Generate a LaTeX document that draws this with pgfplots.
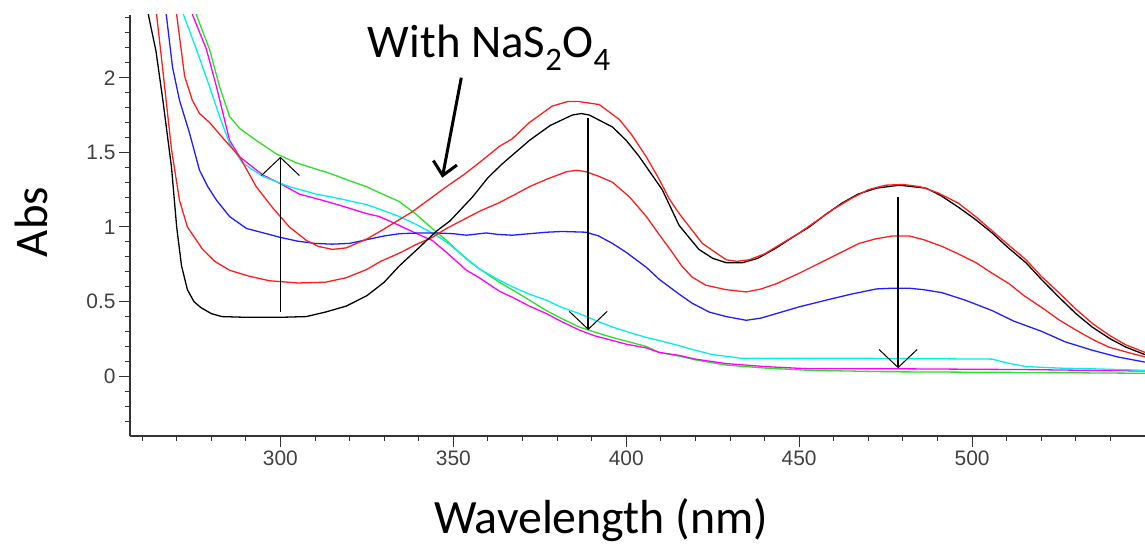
\documentclass[border=0pt]{standalone}
\usepackage{fontspec}
\setmainfont{Carlito}
\newfontfamily\tickfont{Liberation Sans}
\usepackage{pgfplots}
\pgfplotsset{compat=1.18}
\usetikzlibrary{arrows.meta}
\definecolor{cgreen}{RGB}{40,225,40}
\definecolor{cred}{RGB}{255,30,30}
\definecolor{cblue}{RGB}{30,30,255}
\definecolor{ccyan}{RGB}{0,240,240}
\definecolor{cmag}{RGB}{255,0,255}
\begin{document}
\begin{tikzpicture}
\begin{axis}[name=ax, scale only axis, width=1015bp, height=421bp,
  xmin=256.5, xmax=550, ymin=-0.4, ymax=2.42,
  axis lines*=left, axis line style={line width=1.2bp, black!80},
  tick align=outside, major tick length=11bp, minor tick length=5bp,
  xtick={300,350,...,500}, minor xtick={260,270,...,550},
  ytick={0,0.5,1,1.5,2}, minor ytick={-0.3,-0.2,-0.1,0.1,0.2,0.3,0.4,0.6,0.7,0.8,0.9,1.1,1.2,1.3,1.4,1.6,1.7,1.8,1.9,2.1,2.2,2.3,2.4},
  every tick/.style={black!80, line width=1bp},
  /pgf/number format/assume math mode=true,
  ticklabel style={font=\tickfont\fontsize{21}{24}\selectfont, text=black!75},
  xlabel={Wavelength (nm)}, ylabel={Abs},
  every axis x label/.style={at={(axis description cs:0.464,0)}, anchor=center, yshift=-84bp, font=\fontsize{48}{50}\selectfont},
  every axis y label/.style={at={(axis description cs:-0.0975,0.508)}, rotate=90, anchor=center, font=\fontsize{47}{50}\selectfont},
  every axis plot/.append style={line width=1.3bp},
]
% green
\addplot[cgreen] coordinates {(275,2.55)(275.7,2.42)(279.5,2.19)(282.4,1.94)(285.3,1.74)(288.2,1.66)(293,1.58)(298.8,1.49)(304.6,1.43)(310,1.39)(314.2,1.36)(320,1.31)(324.9,1.27)(328.6,1.23)(334.4,1.17)(339,1.09)(343.9,0.99)(348,0.91)(353.8,0.785)(357.5,0.72)(363.3,0.63)(367,0.58)(372,0.51)(376.9,0.44)(381,0.39)(386.4,0.33)(391,0.295)(396,0.26)(400,0.235)(405.8,0.20)(409.5,0.16)(415.3,0.135)(420,0.11)(428.9,0.075)(440,0.055)(452.9,0.04)(476.9,0.03)(520,0.025)(550,0.02)};
% magenta
\addplot[cmag] coordinates {(273.9,2.55)(274.6,2.42)(278.6,2.19)(281.5,1.94)(285.3,1.58)(288.2,1.47)(294.8,1.35)(300,1.29)(305.5,1.22)(310.4,1.19)(315,1.16)(320,1.125)(324.9,1.09)(328.6,1.07)(334.4,1.01)(339,0.96)(343.9,0.91)(348,0.83)(353.8,0.71)(357.5,0.66)(363.3,0.57)(367,0.53)(372,0.47)(376.9,0.42)(381,0.37)(386.4,0.31)(391,0.27)(396,0.24)(400,0.215)(405.8,0.19)(409.5,0.16)(415.3,0.14)(420,0.115)(428.9,0.085)(440,0.065)(452.9,0.05)(480,0.05)(515.6,0.045)(550,0.035)};
% cyan
\addplot[ccyan] coordinates {(271.3,2.55)(272,2.42)(275.7,2.19)(279.5,1.94)(282.4,1.74)(285.3,1.56)(289,1.43)(294.8,1.34)(302.6,1.27)(310.4,1.22)(315,1.20)(320,1.175)(324.9,1.15)(328.6,1.12)(334.4,1.07)(339,1.02)(343.9,0.96)(348,0.90)(353.8,0.79)(357.5,0.72)(362,0.66)(367,0.60)(372,0.55)(376.9,0.51)(381,0.465)(386.4,0.42)(391,0.375)(396,0.33)(400,0.30)(405.8,0.26)(409.5,0.24)(415.3,0.205)(419,0.18)(425,0.145)(433.5,0.12)(440,0.12)(470,0.12)(505.8,0.115)(510,0.09)(515.6,0.065)(525,0.055)(535,0.05)(550,0.04)};
% blue
\addplot[cblue] coordinates {(266.4,2.55)(267,2.42)(268.8,2.07)(270.8,1.85)(273.7,1.63)(276.6,1.38)(279,1.27)(281.5,1.18)(285.3,1.07)(290.2,0.99)(296.8,0.95)(300,0.93)(305,0.905)(310,0.89)(315,0.885)(320,0.89)(324.9,0.915)(330,0.94)(334.4,0.955)(340,0.96)(345,0.96)(350,0.955)(353.8,0.945)(359.5,0.96)(363,0.95)(367,0.945)(372,0.955)(377,0.965)(381.5,0.97)(388.4,0.965)(392,0.94)(396,0.89)(400,0.83)(405.8,0.73)(409.5,0.65)(415.3,0.55)(419,0.49)(424,0.43)(428.9,0.40)(434.7,0.375)(439,0.39)(443.4,0.42)(450,0.465)(457.8,0.51)(465,0.55)(472.3,0.585)(477,0.59)(481.8,0.59)(486,0.58)(491.3,0.56)(498,0.51)(505.8,0.44)(512,0.37)(520.2,0.30)(527,0.23)(534.7,0.175)(542,0.13)(550,0.095)};
% red 2
\addplot[cred] coordinates {(263.5,2.58)(264.2,2.42)(265.9,2.07)(268.5,1.52)(270.8,1.18)(273.1,1.00)(277.5,0.85)(281,0.77)(285.3,0.71)(291,0.67)(296.8,0.64)(305,0.625)(313,0.63)(319,0.66)(324.9,0.715)(329,0.77)(334.4,0.825)(339,0.88)(343.9,0.93)(348,0.99)(353.8,1.06)(358,1.11)(363,1.16)(368,1.22)(372,1.27)(377,1.32)(382.7,1.37)(385.5,1.38)(388.4,1.37)(392,1.34)(396,1.30)(401,1.20)(405.8,1.07)(409.5,0.95)(413,0.84)(416,0.74)(419,0.665)(423,0.61)(428.9,0.58)(434.7,0.565)(439,0.585)(443.4,0.62)(450,0.69)(457.8,0.78)(463,0.84)(467.3,0.89)(472,0.92)(476.9,0.94)(481.8,0.94)(486,0.915)(491.3,0.87)(496,0.82)(501.2,0.76)(505.8,0.69)(510.7,0.62)(515,0.54)(520.2,0.46)(525,0.38)(530,0.31)(535,0.245)(539.6,0.195)(545,0.16)(550,0.13)};
% black
\addplot[black] coordinates {(260.5,2.60)(262,2.40)(264,2.18)(266,1.85)(268.5,1.40)(270,1.00)(271.4,0.74)(273.1,0.58)(275,0.50)(277,0.46)(280,0.42)(283,0.40)(290,0.395)(300,0.395)(307.5,0.40)(313,0.43)(319,0.47)(325,0.54)(330,0.63)(334.4,0.74)(340,0.86)(345,0.97)(349,1.04)(355.5,1.20)(360,1.33)(364,1.42)(372,1.58)(378,1.68)(384.4,1.75)(387,1.76)(389.3,1.75)(396,1.67)(400,1.58)(403.8,1.47)(410.4,1.25)(415.3,1.01)(421,0.85)(425,0.79)(429,0.76)(433.5,0.76)(438,0.79)(443.4,0.86)(448,0.93)(452.9,1.00)(458,1.09)(462.4,1.16)(467,1.22)(472.3,1.26)(478.9,1.28)(486.7,1.26)(491,1.21)(496.2,1.13)(501,1.05)(505.8,0.96)(510,0.87)(515.6,0.76)(520,0.65)(525.1,0.53)(530,0.42)(534.7,0.33)(540,0.25)(544.5,0.195)(550,0.145)};
% red 1
\addplot[cred] coordinates {(269.3,2.55)(270,2.42)(272.3,2.01)(274.5,1.85)(276.6,1.76)(279.5,1.70)(283.2,1.60)(288.2,1.47)(293,1.27)(297.7,1.13)(302.6,1.00)(307.5,0.91)(311,0.87)(315,0.85)(319,0.86)(325,0.92)(329.5,0.98)(334.4,1.05)(338,1.10)(343.9,1.20)(348,1.27)(353,1.35)(358,1.44)(363.3,1.54)(367,1.59)(372,1.70)(378.6,1.81)(383,1.84)(386.4,1.84)(392.2,1.82)(398,1.72)(401.5,1.62)(405.8,1.47)(409.5,1.32)(412.4,1.19)(415.3,1.09)(422,0.89)(428.9,0.78)(432,0.77)(435.5,0.78)(440,0.82)(445,0.89)(450,0.96)(455,1.04)(460,1.12)(465,1.19)(470,1.25)(475,1.28)(480,1.285)(485,1.27)(490,1.23)(496,1.16)(501,1.07)(506,0.97)(510,0.89)(515.6,0.78)(520,0.67)(525.1,0.56)(530,0.45)(535,0.35)(540,0.27)(544.5,0.21)(550,0.16)};
% annotations
\draw[line width=1.5bp, -{Straight Barb[length=18bp,width=38bp,line width=1bp]}] (axis cs:300,0.43) -- (axis cs:300,1.47);
\draw[line width=1.5bp, -{Straight Barb[length=18bp,width=38bp,line width=1bp]}] (axis cs:389,1.73) -- (axis cs:389,0.31);
\draw[line width=1.5bp, -{Straight Barb[length=18bp,width=38bp,line width=1bp]}] (axis cs:478.6,1.20) -- (axis cs:478.6,0.054);
\draw[line width=3bp, -{Straight Barb[length=13bp,width=24bp]}] (axis cs:352.3,2.0) -- (axis cs:346.8,1.33);
\node[anchor=base, font=\fontsize{47}{50}\selectfont, inner sep=0pt] at (axis cs:360.4,2.134) {With NaS\textsubscript{2}O\textsubscript{4}};
\end{axis}
\pgfresetboundingbox
\path (ax.south west) ++(-130bp,-109bp) rectangle ++(1145bp,545bp);
\end{tikzpicture}
\end{document}
